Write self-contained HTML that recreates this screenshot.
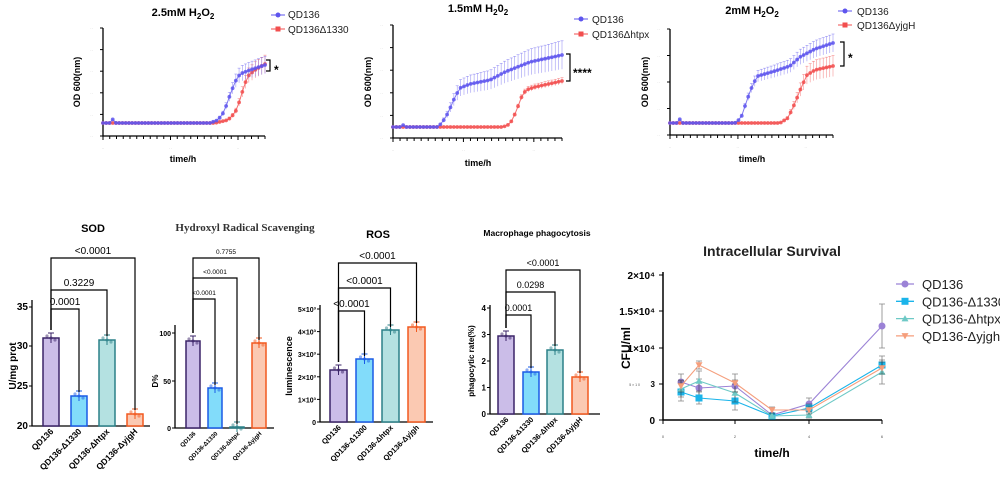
<!DOCTYPE html>
<html><head><meta charset="utf-8"><style>
html,body{margin:0;padding:0;background:#fff;}
svg{display:block;font-family:"Liberation Sans",Arial,sans-serif;}
</style></head><body>
<svg id="s" width="1000" height="480" viewBox="0 0 1000 480" xmlns="http://www.w3.org/2000/svg">
<text x="183" y="16" font-size="11" font-weight="bold" text-anchor="middle">2.5mM H<tspan font-size="8" dy="3">2</tspan><tspan dy="-3">O</tspan><tspan font-size="8" dy="3">2</tspan></text>
<text x="478" y="12" font-size="11" font-weight="bold" text-anchor="middle">1.5mM H<tspan font-size="8" dy="3">2</tspan><tspan dy="-3">0</tspan><tspan font-size="8" dy="3">2</tspan></text>
<text x="752" y="14" font-size="11" font-weight="bold" text-anchor="middle">2mM  H<tspan font-size="8" dy="3">2</tspan><tspan dy="-3">O</tspan><tspan font-size="8" dy="3">2</tspan></text>
<g font-size="10" fill="#222">
<text x="288" y="18">QD136</text><text x="288" y="33">QD136Δ1330</text>
<text x="592" y="23">QD136</text><text x="592" y="38">QD136Δhtpx</text>
<text x="857" y="15">QD136</text><text x="857" y="29">QD136ΔyjgH</text>
</g>
<g font-size="9" font-weight="bold">
<text x="183" y="162" text-anchor="middle">time/h</text>
<text x="478" y="166" text-anchor="middle">time/h</text>
<text x="752" y="162" text-anchor="middle">time/h</text>
<text transform="translate(80,82) rotate(-90)" text-anchor="middle">OD 600(nm)</text>
<text transform="translate(371,82) rotate(-90)" text-anchor="middle">OD 600(nm)</text>
<text transform="translate(648,82) rotate(-90)" text-anchor="middle">OD 600(nm)</text>
</g>
<g stroke="#000" stroke-width="1.2" fill="none">
<path d="M266,60 H270 V71 H266"/><path d="M566,54 H570 V81 H566"/><path d="M840,42 H844 V66 H840"/>
</g>
<g font-size="12" font-weight="bold"><text x="274" y="74">*</text><text x="573" y="77">****</text><text x="848" y="62">*</text></g>

<text x="93" y="232" font-size="11" font-weight="bold" text-anchor="middle">SOD</text>
<text x="245" y="231" font-size="11" font-weight="bold" text-anchor="middle" font-family="Liberation Serif,serif" fill="#333">Hydroxyl Radical Scavenging</text>
<text x="378" y="238" font-size="11" font-weight="bold" text-anchor="middle">ROS</text>
<text x="537" y="236" font-size="8.5" font-weight="bold" text-anchor="middle">Macrophage phagocytosis</text>
<text x="772" y="256" font-size="14" font-weight="bold" text-anchor="middle" fill="#222">Intracellular Survival</text>
<g font-size="10" font-weight="bold">
<text transform="translate(16,366) rotate(-90)" text-anchor="middle">U/mg prot</text>
<text transform="translate(158,381) rotate(-90)" text-anchor="middle" font-size="8">D%</text>
<text transform="translate(292,366) rotate(-90)" text-anchor="middle" font-size="9">luminescence</text>
<text transform="translate(474,361) rotate(-90)" text-anchor="middle" font-size="8">phagocytic rate(%)</text>
<text transform="translate(630,348) rotate(-90)" text-anchor="middle" font-size="12">CFU/ml</text>
<text x="772" y="457" text-anchor="middle" font-size="12">time/h</text>
</g>
<g id="dyn"></g>
</svg>
<script>
const NS="http://www.w3.org/2000/svg",G=document.getElementById("dyn");
function el(t,a,txt){const e=document.createElementNS(NS,t);for(const k in a)e.setAttribute(k,a[k]);if(txt!=null)e.textContent=txt;G.appendChild(e);return e;}
function interp(pts,x){for(let i=1;i<pts.length;i++){if(x<=pts[i][0]){const a=pts[i-1],b=pts[i];return a[1]+(b[1]-a[1])*(x-a[0])/(b[0]-a[0]);}}return pts[pts.length-1][1];}
function topAxis(x0,x1,y0,y1,ny){el("path",{d:`M${x0},${y0} V${y1} H${x1}`,stroke:"#000","stroke-width":1.3,fill:"none"});
 for(let i=0;i<=ny;i++){const y=y0+(y1-y0)*i/ny;el("line",{x1:x0-3,x2:x0,y1:y,y2:y,stroke:"#000"});el("text",{x:x0-10,y:y+1,"font-size":3,"text-anchor":"end",fill:"#555"},". .");}
 const n=24;for(let i=0;i<=n;i++){const x=x0+(x1-x0)*i/n;el("line",{x1:x,x2:x,y1:y1,y2:y1+(i%10==0?4:3),stroke:"#000"});}
 for(let i=0;i<3;i++){el("text",{x:x0+(x1-x0)*i*10/24,y:y1+13,"font-size":3,"text-anchor":"middle",fill:"#555"},". .");}}
function curve(pts,x0,x1,base,col,err){const n=50;let d="";for(let i=0;i<=n;i++){const x=x0+(x1-x0)*i/n,y=interp(pts,x);d+=(i?"L":"M")+x.toFixed(1)+","+y.toFixed(1);
 if(base-y>4){const e=err*(base-y)/60+1;el("line",{x1:x,x2:x,y1:y-e,y2:y+e,stroke:col,"stroke-width":0.6,opacity:0.6});el("line",{x1:x-1.5,x2:x+1.5,y1:y-e,y2:y-e,stroke:col,"stroke-width":0.6,opacity:0.6});}
 el("circle",{cx:x,cy:y,r:1.9,fill:col,opacity:0.85});}
 el("path",{d:d,stroke:col,fill:"none","stroke-width":1,opacity:0.8});}
const B="#5e55ee",R="#f24e4e";
topAxis(103,265,28,136,5);topAxis(393,562,25,138,5);topAxis(670,833,29,135,4);
curve([[103,123],[215,123],[228,120],[235,113],[240,100],[244,86],[248,76],[255,70],[265,64]],103,265,123,R,8);
curve([[103,123],[110,123],[113,119],[116,123],[210,123],[218,120],[224,112],[230,95],[235,82],[240,74],[250,70],[265,65]],103,265,123,B,8);
curve([[393,127],[503,127],[510,124],[516,112],[521,98],[526,90],[535,87],[562,81]],393,562,127,R,3);
curve([[393,127],[400,127],[402,124],[405,127],[437,127],[442,123],[448,113],[455,97],[460,88],[470,84],[490,80],[505,72],[530,62],[562,55]],393,562,127,B,11);
curve([[670,123],[780,123],[788,118],[795,103],[801,88],[807,75],[815,70],[833,66]],670,833,123,R,10);
curve([[670,123],[677,123],[680,119],[683,123],[735,123],[741,118],[747,100],[753,84],[758,76],[775,71],[790,66],[800,57],[815,49],[833,43]],670,833,123,B,6);
[[278,15,B],[278,29,R],[581,19,B],[581,34,R],[845,11,B],[845,25,R]].forEach(([x,y,c])=>{el("line",{x1:x-7,x2:x+7,y1:y,y2:y,stroke:c,"stroke-width":1});if(c==B)el("circle",{cx:x,cy:y,r:2.5,fill:c});else el("rect",{x:x-2.5,y:y-2.5,width:5,height:5,fill:c});});

const FC=["#cbbde8","#82dcfa","#b4e1e1","#fbc9b2"],SC=["#3b2468","#1a5be6","#2b8088","#f2591f"];
function bars(ax,x1,yb,yt,ticks,labs,bx,bw,tops,brk,names,fs,ls){
 el("path",{d:`M${ax},${yt} V${yb} H${x1}`,stroke:"#000","stroke-width":1.3,fill:"none"});
 ticks.forEach((t,i)=>{el("line",{x1:ax-3,x2:ax,y1:t,y2:t,stroke:"#000"});el("text",{x:ax-4,y:t+3,"font-size":fs,"text-anchor":"end","font-weight":"bold"},labs[i]);});
 bx.forEach((x,i)=>{el("rect",{x:x,y:tops[i],width:bw,height:yb-tops[i],fill:FC[i],stroke:SC[i],"stroke-width":1.5});
  const c=x+bw/2;el("line",{x1:c,x2:c,y1:tops[i]-5,y2:tops[i]+5,stroke:SC[i]});el("line",{x1:c-3,x2:c+3,y1:tops[i]-5,y2:tops[i]-5,stroke:SC[i]});
  [-4,0,4].forEach((o,j)=>el("circle",{cx:c+o,cy:tops[i]+(j-1)*2,r:1.6,fill:SC[i],opacity:0.5}));
  el("text",{transform:`translate(${c+3},${yb+6}) rotate(-45)`,"font-size":ls,"font-weight":"bold","text-anchor":"end"},names[i]);});
 const lc=bx[0]+bw/2;brk.forEach(([y,i,ylow,lab,lfs])=>{const c=bx[i]+bw/2;el("path",{d:`M${lc},${tops[0]-8} V${y} H${c} V${ylow}`,stroke:"#000","stroke-width":1.2,fill:"none"});
  el("text",{x:(lc+c)/2,y:y-4,"font-size":lfs,"text-anchor":"middle"},lab);});}
bars(32,150,426,300,[307,346,386,426],["35","30","25","20"],[43,71,99,127],16,[338,396,340,414],
 [[309,1,392,"0.0001",10],[290,2,336,"0.3229",10],[258,3,410,"<0.0001",10]],
 ["QD136","QD136-Δ1330","QD136-Δhtpx","QD136-ΔyjgH"],10,8.5);
bars(175,274,428,325,[333,381,428],["100","50","0"],[186,208,230,252],14,[341,388,427,343],
 [[299,1,385,"<0.0001",6.5],[278,2,424,"<0.0001",6.5],[258,3,340,"0.7755",6.5]],
 ["QD136","QD136-Δ1330","QD136-Δhtpx","QD136-ΔyjgH"],7,6);
bars(320,433,422,305,[309,331.6,354.2,376.8,399.4,422],["5×10³","4×10³","3×10³","2×10³","1×10³","0"],[330,356,382,408],17,[370,359,330,327],
 [[311,1,356,"<0.0001",10],[288,2,327,"<0.0001",10],[263,3,323,"<0.0001",10]],
 ["QD136","QD136-Δ1300","QD136-Δhtpx","QD136-Δyjgh"],7,7.5);
bars(490,600,414,305,[308,334.5,361,387.5,414],["4","3","2","1","0"],[498,523,547,572],16,[336,372,350,377],
 [[315,1,368,"0.0001",9],[292,2,346,"0.0298",9],[270,3,373,"<0.0001",9]],
 ["QD136","QD136-Δ1330","QD136-Δhtpx","QD136-ΔyjgH"],8,7.5);

el("path",{d:"M663,272 V420 H882",stroke:"#000","stroke-width":1.5,fill:"none"});
[[275,"2×10⁴"],[311,"1.5×10⁴"],[348,"1×10⁴"],[420,"0"]].forEach(([y,t])=>{el("line",{x1:659,x2:663,y1:y,y2:y,stroke:"#000"});el("text",{x:655,y:y+4,"font-size":10,"font-weight":"bold","text-anchor":"end"},t);});
el("line",{x1:659,x2:663,y1:384,y2:384,stroke:"#000"});el("text",{x:655,y:387,"font-size":8,"font-weight":"bold","text-anchor":"end"},"3");el("text",{x:640,y:386,"font-size":3.5,"text-anchor":"end",fill:"#555"},"5 × 1 0");
[[663,"0"],[735,"2"],[809,"4"],[882,"6"]].forEach(([x,t])=>{el("line",{x1:x,x2:x,y1:420,y2:424,stroke:"#000"});el("text",{x:x,y:438,"font-size":4,"text-anchor":"middle",fill:"#555"},t);});
const X=[681,699,735,772,809,882];
const S=[["#9b82d6","c",[382,388,386,415,404,326],[8,9,6,2,6,22]],["#1ab4ea","s",[392,398,401,416,408,365],[9,6,9,2,4,9]],["#6ec9c6","t",[389,381,393,416,415,372],[8,10,9,2,3,12]],["#f59e7c","v",[386,365,383,410,410,368],[6,4,9,3,4,6]]];
function mk(m,x,y,c,r){if(m=="c")el("circle",{cx:x,cy:y,r:r,fill:c});else if(m=="s")el("rect",{x:x-r,y:y-r,width:2*r,height:2*r,fill:c});else if(m=="t")el("path",{d:`M${x},${y-r}L${x+r},${y+r*0.8}L${x-r},${y+r*0.8}Z`,fill:c});else el("path",{d:`M${x},${y+r}L${x+r},${y-r*0.8}L${x-r},${y-r*0.8}Z`,fill:c});}
S.forEach(([c,m,ys,es])=>{el("polyline",{points:X.map((x,i)=>x+","+ys[i]).join(" "),stroke:c,fill:"none","stroke-width":1.1});
 X.forEach((x,i)=>{const y=ys[i],e=es[i];el("path",{d:`M${x},${y-e}V${y+e}M${x-3},${y-e}H${x+3}M${x-3},${y+e}H${x+3}`,stroke:"#333","stroke-width":0.8,opacity:0.6});mk(m,x,y,c,3.5);});});
const LN=["QD136","QD136-Δ1330","QD136-Δhtpx","QD136-Δyjgh"];
S.forEach(([c,m],i)=>{const y=284+i*17.3;el("line",{x1:896,x2:914,y1:y,y2:y,stroke:c,"stroke-width":1.3});mk(m,905,y,c,3.5);el("text",{x:922,y:y+5,"font-size":13,fill:"#222"},LN[i]);});
</script>
</body></html>
